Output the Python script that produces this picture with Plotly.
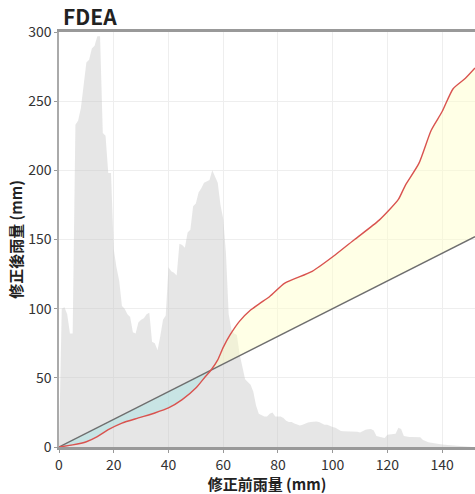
import plotly.graph_objects as go

# Histogram background (frequency profile, drawn in y units)
hist_x = list(range(0, 153))
hist_y = [0, 100, 101, 96, 82, 82, 233, 236, 245, 262, 278, 280, 288, 290, 297, 297, 227, 225, 198, 198,
          143, 130, 120, 102, 100, 96, 94, 83, 82, 90, 92, 93, 96, 97, 76, 75, 70, 80, 92, 95,
          130, 127, 126, 124, 147, 146, 144, 155, 157, 174, 176, 184, 187, 191, 192, 193, 200, 196, 191, 175,
          165, 140, 96, 85, 82, 81, 67, 58, 49, 47, 45, 40, 30, 24, 23, 22, 22, 24, 25, 22,
          22, 22, 21, 19, 18, 18, 17, 16, 15.5, 16, 17, 17.8, 18, 18.5, 18.5, 18, 17, 16, 16, 15,
          14.5, 14, 13, 11.5, 11.3, 11.3, 11.3, 11.5, 11, 11, 10.5, 11.5, 12.5, 12.8, 13, 12, 8, 7.5, 7, 6.5,
          8.9, 9, 9, 9.5, 14, 13, 8, 7.5, 7.2, 7.2, 7.2, 7.3, 7, 5, 4, 3.5, 3, 2.6, 2.4, 2,
          1.8, 1.6, 1.4, 1.4, 1.2, 1, 0.8, 0.6, 0.4, 0.2, 0.1, 0, 0]

# Corrected vs uncorrected rainfall curve
curve_x = [0, 5, 10, 14, 18, 23, 29, 35, 40, 45, 50, 53.5, 55.5, 58, 60, 62.5, 66, 70, 73.5, 77,
           82.5, 92.5, 101, 108, 117, 124, 126.5, 131.5, 136, 140, 144, 148.5, 152]
curve_y = [0, 1.5, 3.8, 7.5, 12.5, 17.3, 21, 24.6, 28.2, 34.2, 42.6, 51, 55.5, 63, 72, 81, 91, 99, 104, 108.8,
           118.5, 127, 139, 150, 164, 179, 189, 205, 229, 242.5, 259, 266.6, 274]

# 1:1 reference line
diag_x = [0, 152]
diag_y = [0, 152]

x_ticks = [0, 20, 40, 60, 80, 100, 120, 140]
y_ticks = [0, 50, 100, 150, 200, 250, 300]

cross = curve_x.index(55.5)

fig = go.Figure()
fig.add_trace(go.Scatter(x=hist_x, y=hist_y, mode="lines", line=dict(width=0),
                         fill="tozeroy", fillcolor="rgba(195,195,195,0.42)", hoverinfo="skip"))
# below 1:1 (blue)
fig.add_trace(go.Scatter(x=curve_x[:cross + 1], y=curve_y[:cross + 1], mode="lines", line=dict(width=0),
                         fill="toself", fillcolor="rgba(170,225,225,0.5)", hoverinfo="skip"))
# above 1:1 (yellow)
fig.add_trace(go.Scatter(x=curve_x[cross:] + [diag_x[1]], y=curve_y[cross:] + [diag_y[1]], mode="lines",
                         line=dict(width=0), fill="toself", fillcolor="rgba(255,255,200,0.45)", hoverinfo="skip"))
fig.add_trace(go.Scatter(x=diag_x, y=diag_y, mode="lines", line=dict(color="#6e6e6e", width=1.4)))
fig.add_trace(go.Scatter(x=curve_x, y=curve_y, mode="lines", line=dict(color="#d9534f", width=1.4, shape="spline", smoothing=0.6)))

font_family = "Noto Sans CJK TC, Open Sans, sans-serif"
fig.update_layout(
    width=475, height=494,
    margin=dict(l=59, r=0, t=32, b=47, autoexpand=False),
    paper_bgcolor="white", plot_bgcolor="white",
    showlegend=False,
    font=dict(family=font_family, size=14, color="#333333"),
    title=dict(text="<b>FDEA</b>", xref="container", x=63 / 475, xanchor="left",
               yref="container", y=1 - 18 / 494, yanchor="middle",
               font=dict(size=21, color="#222222", family=font_family)),
    xaxis=dict(range=[0, 152], tickvals=x_ticks, showgrid=True, gridcolor="#eeeeee", gridwidth=1,
               zeroline=False, showline=True, linecolor="#999999", linewidth=2.5, mirror=True,
               ticks="outside", ticklen=3, tickcolor="#999999", automargin=False,
               tickfont=dict(size=14, color="#333333"),
               title=dict(text="修正前雨量 (mm)", font=dict(size=15, color="#222222", weight=600), standoff=5)),
    yaxis=dict(range=[0, 300], tickvals=y_ticks, showgrid=True, gridcolor="#eeeeee", gridwidth=1,
               zeroline=False, showline=True, linecolor="#aaaaaa", linewidth=1.5,
               ticks="outside", ticklen=3, tickcolor="#999999", automargin=False,
               tickfont=dict(size=14, color="#333333"),
               title=dict(text="修正後雨量 (mm)", font=dict(size=15, color="#222222", weight=600), standoff=2)),
)

fig.write_html("out.html", config={"displayModeBar": False},
               post_script="document.body.style.margin='0';document.body.style.overflow='hidden';")
